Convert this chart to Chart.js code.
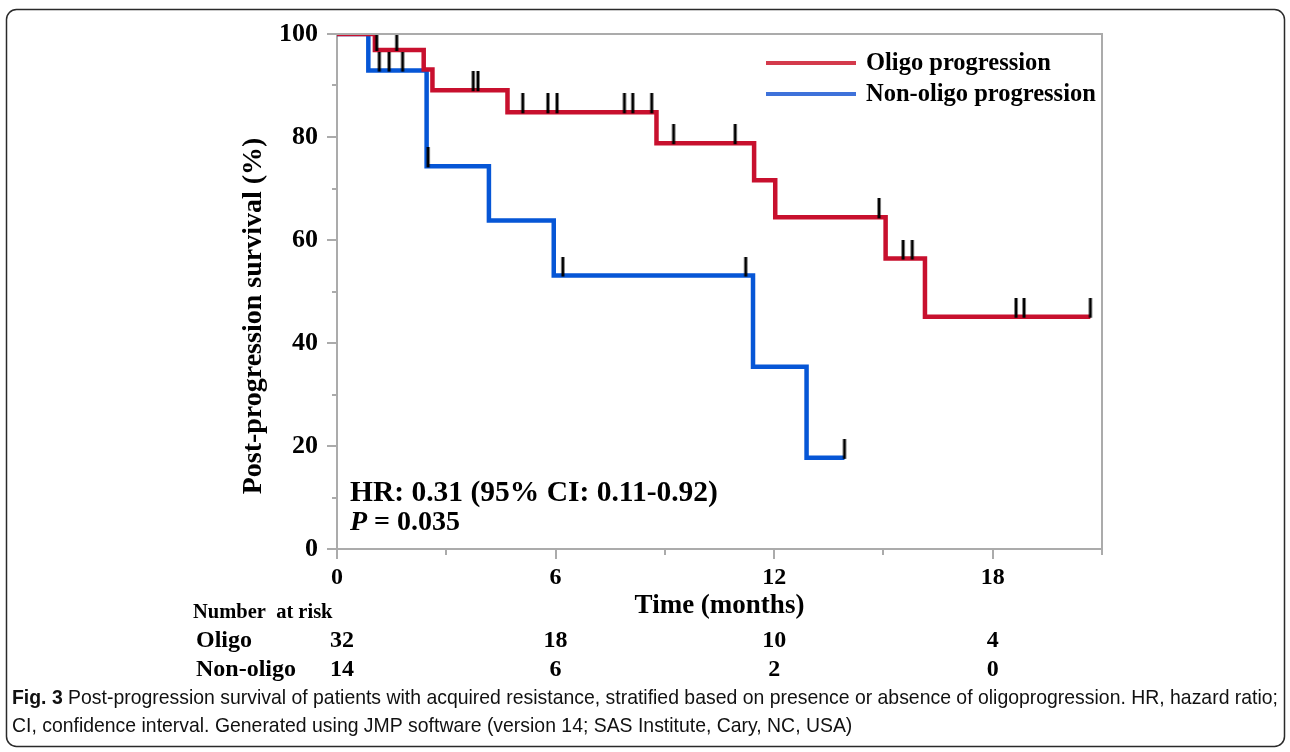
<!DOCTYPE html>
<html>
<head>
<meta charset="utf-8">
<script src="https://cdn.jsdelivr.net/npm/chart.js@4.4.1/dist/chart.umd.min.js"></script>
<style>
html,body{margin:0;padding:0;background:#fff;overflow:hidden}
#wrap{position:relative;width:1290px;height:752px}
</style>
</head>
<body>
<div id="wrap"><canvas id="c" width="1290" height="752"></canvas></div>
<script>
// ---- data ----
const oligoTimes = [0, 1.04, 2.38, 2.62, 4.68, 8.77, 11.45, 12.03, 15.06, 16.14, 20.68];
const oligoSurv  = [100, 96.9, 93.1, 89.1, 84.8, 78.8, 71.6, 64.4, 56.4, 45.1, 45.1];
const nonOligoTimes = [0, 0.86, 2.46, 4.17, 5.95, 11.42, 12.89, 13.93];
const nonOligoSurv  = [100, 92.9, 74.3, 63.8, 53.1, 35.4, 17.7, 17.7];

const oligoCensorTimes = [1.09, 1.64, 3.74, 3.87, 5.10, 5.79, 6.04, 7.89, 8.12, 8.64, 9.24, 10.93, 14.88, 15.54, 15.79, 18.64, 18.86, 20.68];
const oligoCensorSurv  = [96.9, 96.9, 89.1, 89.1, 84.8, 84.8, 84.8, 84.8, 84.8, 84.8, 78.8, 78.8, 64.4, 56.4, 56.4, 45.1, 45.1, 45.1];
const nonOligoCensorTimes = [1.16, 1.43, 1.80, 2.50, 6.20, 11.22, 13.93];
const nonOligoCensorSurv  = [92.9, 92.9, 92.9, 74.3, 53.1, 53.1, 17.7];

const xMajorTicks = [0, 6, 12, 18];
const xMinorTicks = [3, 9, 15, 21];
const yMajorTicks = [0, 20, 40, 60, 80, 100];
const yMinorTicks = [10, 30, 50, 70, 90];

const seriesNames = ['Oligo progression', 'Non-oligo progression'];
const riskLabels = ['Oligo', 'Non-oligo'];
const riskTimes = [0, 6, 12, 18];
const riskOligo = [32, 18, 10, 4];
const riskNonOligo = [14, 6, 2, 0];

const hrText = 'HR: 0.31 (95% CI: 0.11-0.92)';
const pText = '= 0.035';
const yTitle = 'Post-progression survival (%)';
const xTitle = 'Time (months)';
const captionBold = 'Fig. 3';
const captionLine1 = ' Post-progression survival of patients with acquired resistance, stratified based on presence or absence of oligoprogression. HR, hazard ratio;';
const captionLine2 = 'CI, confidence interval. Generated using JMP software (version 14; SAS Institute, Cary, NC, USA)';

// ---- styles ----
const RED = '#C8102E';
const BLUE = '#0656D6';
const AXIS = '#ababab';
const SERIF = '"Liberation Serif","Times New Roman",Times,serif';
const SANS = '"Liberation Sans Narrow","Liberation Sans",Arial,sans-serif';

function pts(xs, ys){ return xs.map((v,i)=>({x:v, y:ys[i]})); }

function censorMark(){
  const c = document.createElement('canvas');
  c.width = 6; c.height = 38;
  const g = c.getContext('2d');
  g.fillStyle = '#000';
  g.fillRect(1.5, 0, 3, 20);
  return c;
}
const mark = censorMark();

const deco = {
  id: 'deco',
  afterDraw(chart){
    const {ctx, chartArea:a, scales:{x, y}} = chart;
    ctx.save();
    // plot frame (top / right)
    ctx.strokeStyle = AXIS; ctx.lineWidth = 2;
    ctx.beginPath();
    ctx.moveTo(a.left - 10, a.top); ctx.lineTo(a.right, a.top); ctx.lineTo(a.right, a.bottom);
    ctx.stroke();
    // minor ticks
    ctx.beginPath();
    yMinorTicks.forEach(v=>{ const py = Math.round(y.getPixelForValue(v)); ctx.moveTo(a.left-5, py); ctx.lineTo(a.left, py); });
    xMinorTicks.forEach(v=>{ const px = Math.round(x.getPixelForValue(v)); ctx.moveTo(px, a.bottom); ctx.lineTo(px, a.bottom+6); });
    ctx.stroke();

    ctx.fillStyle = '#000';
    // y title
    ctx.save();
    ctx.font = 'bold 28px ' + SERIF;
    ctx.translate(254, 316); ctx.rotate(-Math.PI/2);
    ctx.textAlign = 'center'; ctx.textBaseline = 'middle';
    ctx.fillText(yTitle, 0, 0);
    ctx.restore();
    // x title
    ctx.font = 'bold 27px ' + SERIF;
    ctx.textAlign = 'center'; ctx.textBaseline = 'middle';
    ctx.fillText(xTitle, (a.left + a.right)/2, 606);

    // legend
    const legY = [63, 94];
    const legCol = ['#D43A4C', '#3E72DA'];
    seriesNames.forEach((n,i)=>{
      ctx.strokeStyle = legCol[i]; ctx.lineWidth = 4;
      ctx.beginPath(); ctx.moveTo(766, legY[i]); ctx.lineTo(856, legY[i]); ctx.stroke();
      ctx.font = 'bold 24.5px ' + SERIF; ctx.textAlign = 'left'; ctx.textBaseline = 'middle';
      ctx.fillStyle = '#000';
      ctx.fillText(n, 866, legY[i] + 1);
    });

    // HR and P
    ctx.font = 'bold 29.5px ' + SERIF; ctx.textAlign = 'left'; ctx.textBaseline = 'middle';
    ctx.fillText(hrText, 350, 493);
    ctx.font = 'italic bold 28px ' + SERIF;
    ctx.fillText('P', 350, 523);
    const pw = ctx.measureText('P ').width;
    ctx.font = 'bold 28px ' + SERIF;
    ctx.fillText(pText, 350 + pw, 523);

    // number at risk table
    ctx.font = 'bold 20.5px ' + SERIF; ctx.textAlign = 'left';
    ctx.fillText('Number  at risk', 193, 613);
    ctx.font = 'bold 24px ' + SERIF;
    const rowY = [641, 670];
    riskLabels.forEach((l,i)=> ctx.fillText(l, 196, rowY[i]));
    ctx.textAlign = 'center';
    [riskOligo, riskNonOligo].forEach((row,i)=>{
      row.forEach((v,j)=>{
        const px = x.getPixelForValue(riskTimes[j]) + (j===0 ? 5 : 0);
        ctx.fillText(String(v), px, rowY[i]);
      });
    });

    // caption
    ctx.textAlign = 'left'; ctx.textBaseline = 'alphabetic';
    ctx.font = 'bold 21px ' + SANS;
    const wb = ctx.measureText(captionBold).width;
    ctx.font = '21px ' + SANS;
    const w1 = ctx.measureText(captionLine1).width;
    const sx = (1278 - 12) / (wb + w1);
    ctx.save();
    ctx.translate(12, 0); ctx.scale(sx, 1);
    ctx.font = 'bold 21px ' + SANS; ctx.fillStyle = '#111';
    ctx.fillText(captionBold, 0, 704);
    ctx.font = '21px ' + SANS;
    ctx.fillText(captionLine1, wb, 704);
    ctx.fillText(captionLine2, 0, 732);
    ctx.restore();

    // outer rounded border
    ctx.strokeStyle = '#2a2a2a'; ctx.lineWidth = 1.5;
    ctx.beginPath();
    ctx.roundRect(6.5, 9.5, 1278, 737, 10);
    ctx.stroke();
    ctx.restore();
  }
};

new Chart(document.getElementById('c'), {
  type: 'line',
  data: {
    datasets: [
      { label: 'Oligo censored', data: pts(oligoCensorTimes, oligoCensorSurv), showLine: false,
        pointStyle: mark, pointRadius: 6, pointHoverRadius: 6, order: 0 },
      { label: 'Non-oligo censored', data: pts(nonOligoCensorTimes, nonOligoCensorSurv), showLine: false,
        pointStyle: mark, pointRadius: 6, pointHoverRadius: 6, order: 0 },
      { label: seriesNames[0], data: pts(oligoTimes, oligoSurv), borderColor: RED, borderWidth: 4.5,
        stepped: true, pointRadius: 0, fill: false, order: 1, borderCapStyle: 'butt', borderJoinStyle: 'miter' },
      { label: seriesNames[1], data: pts(nonOligoTimes, nonOligoSurv), borderColor: BLUE, borderWidth: 4.5,
        stepped: true, pointRadius: 0, fill: false, order: 2, borderCapStyle: 'butt', borderJoinStyle: 'miter' }
    ]
  },
  options: {
    responsive: false, animation: false, events: [],
    layout: { padding: { left: 0, right: 188, top: 34, bottom: 0 } },
    plugins: { legend: { display: false }, tooltip: { enabled: false } },
    scales: {
      x: {
        type: 'linear', min: 0, max: 21,
        afterBuildTicks: s => { s.ticks = xMajorTicks.map(v => ({ value: v })); },
        afterFit: s => { s.height = 752 - 549; },
        ticks: { autoSkip: false, maxRotation: 0, padding: 4, color: '#000',
                 font: { family: SERIF, weight: 'bold', size: 24 } },
        grid: { drawOnChartArea: false, tickLength: 10, color: AXIS, lineWidth: 2 },
        border: { color: AXIS, width: 2 }
      },
      y: {
        min: 0, max: 100,
        afterBuildTicks: s => { s.ticks = yMajorTicks.map(v => ({ value: v })); },
        afterFit: s => { s.width = 337; },
        ticks: { padding: 9, color: '#000', font: { family: SERIF, weight: 'bold', size: 26 } },
        grid: { drawOnChartArea: false, tickLength: 10, color: AXIS, lineWidth: 2 },
        border: { color: AXIS, width: 2 }
      }
    }
  },
  plugins: [deco]
});
</script>
</body>
</html>
